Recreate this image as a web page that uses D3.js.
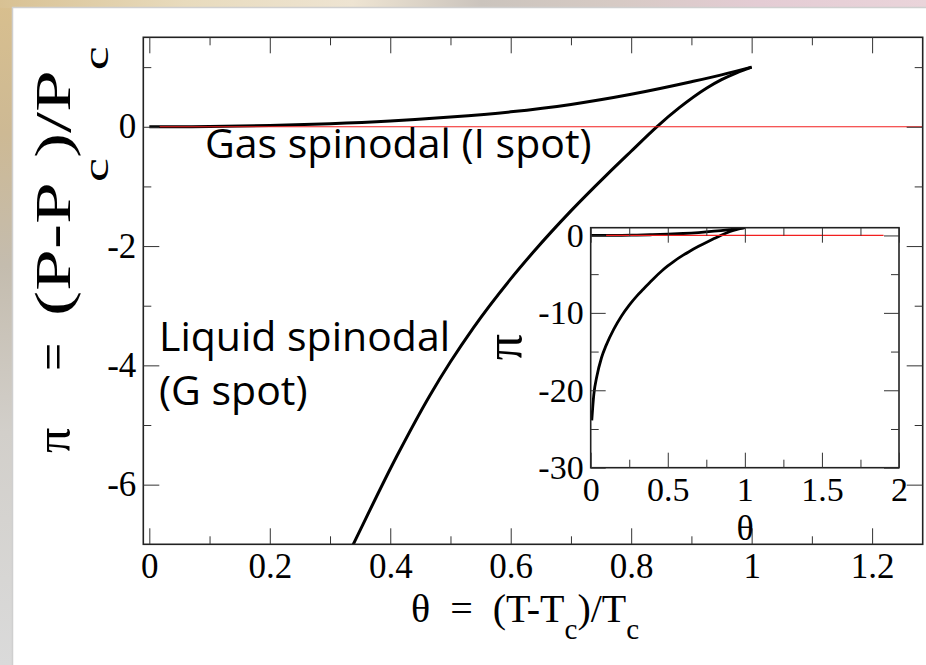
<!DOCTYPE html>
<html>
<head>
<meta charset="utf-8">
<script src="https://cdn.jsdelivr.net/npm/d3@7"></script>
<style>
  html, body { margin: 0; padding: 0; background: #fff; }
  svg { display: block; }
</style>
</head>
<body>
<svg id="chart" width="926" height="665"></svg>
<script>
// Spinodal curves in reduced units: θ = (T-Tc)/Tc, π = (P-Pc)/Pc
const gasTheta = [0, 0.1, 0.2, 0.3, 0.4, 0.5, 0.6, 0.7, 0.8, 0.9, 0.95, 1.0];
const gasPi    = [0, 0.004, 0.02, 0.05, 0.096, 0.162, 0.25, 0.375, 0.545, 0.755, 0.87, 1.0];

const liquidTheta = [0.007, 0.02, 0.04, 0.07, 0.1, 0.15, 0.2, 0.25, 0.3, 0.341, 0.411, 0.466, 0.5, 0.538, 0.6, 0.6376, 0.7, 0.759, 0.8, 0.8425, 0.88, 0.9256, 0.95, 0.975, 1.0];
const liquidPi    = [-23.9, -20.6, -18.2, -15.8, -14.2, -12.1, -10.4, -9.0, -7.8, -6.95, -5.52, -4.5, -3.94, -3.37, -2.55, -2.1, -1.41, -0.81, -0.41, 0, 0.32, 0.65, 0.79, 0.905, 1.0];

// π = 0 reference line (θ extent in each panel)
const zeroLineMain  = [0.017, 1.3];
const zeroLineInset = [0.1, 1.9];

// Tick values
const mainXTicks  = [0, 0.2, 0.4, 0.6, 0.8, 1, 1.2];
const mainXMinor  = [0.1, 0.3, 0.5, 0.7, 0.9, 1.1];
const mainYTicks  = [-6, -4, -2, 0];
const mainYMinor  = [-5, -3, -1, 1];
const insetXTicks = [0, 0.5, 1, 1.5, 2];
const insetXMinor = [0.25, 0.75, 1.25, 1.75];
const insetYTicks = [-30, -20, -10, 0];
const insetYMinor = [-25, -15, -5];

const W = 926, H = 665;
const SERIF = "'Liberation Serif', 'Times New Roman', serif";
const SANS = "'Open Sans', Lato, Carlito, Calibri, sans-serif";

const svg = d3.select("#chart");
const defs = svg.append("defs");

// ---- slide backdrop ----
function grad(id, vertical, stops) {
  const g = defs.append("linearGradient").attr("id", id)
    .attr("x1", 0).attr("y1", 0).attr("x2", vertical ? 0 : 1).attr("y2", vertical ? 1 : 0);
  stops.forEach(([o, c]) => g.append("stop").attr("offset", o).attr("stop-color", c));
}
grad("leftGrad", true, [[0, "#d8bf8e"], [0.2, "#cdb994"], [0.4, "#c4bcae"], [0.65, "#d2cfca"], [1, "#dadada"]]);
grad("topGrad", false, [[0, "#d8c193"], [0.2, "#e8dbbd"], [0.38, "#eee4d2"], [0.52, "#cbc4bd"], [0.66, "#d6cac4"], [0.82, "#e4ccd4"], [1, "#ead4da"]]);

svg.append("rect").attr("width", W).attr("height", H).attr("fill", "url(#leftGrad)");
svg.append("rect").attr("width", W).attr("height", 8).attr("fill", "url(#topGrad)");
svg.append("rect").attr("x", 12.5).attr("y", 7.5).attr("width", W).attr("height", H)
  .attr("fill", "#fff").attr("stroke", "#cfcfcf").attr("stroke-width", 1.5);

// ---- helpers ----
function ticksAllSides(g, xs, ys, o) {
  const [x0, x1] = xs.range(), [y0, y1] = ys.range();
  const fmt = d => String(d);
  const strip = sel => sel.select(".domain").remove();
  const tickStyle = sel => sel.selectAll(".tick line").attr("stroke", "#333").attr("stroke-width", 1);
  const textStyle = sel => sel.selectAll("text").style("font-family", SERIF).style("font-size", o.fs + "px").attr("fill", "#000");

  // bottom
  g.append("g").attr("transform", `translate(0,${y0})`)
    .call(d3.axisBottom(xs).tickValues(o.xt).tickFormat(fmt).tickSize(-o.major).tickPadding(o.xpad))
    .call(strip).call(tickStyle).call(textStyle);
  g.append("g").attr("transform", `translate(0,${y0})`)
    .call(d3.axisBottom(xs).tickValues(o.xm).tickFormat("").tickSize(-o.minor))
    .call(strip).call(tickStyle);
  // top
  g.append("g").attr("transform", `translate(0,${y1})`)
    .call(d3.axisTop(xs).tickValues(o.xt).tickFormat("").tickSize(-o.major))
    .call(strip).call(tickStyle);
  g.append("g").attr("transform", `translate(0,${y1})`)
    .call(d3.axisTop(xs).tickValues(o.xm).tickFormat("").tickSize(-o.minor))
    .call(strip).call(tickStyle);
  // left
  g.append("g").attr("transform", `translate(${x0},0)`)
    .call(d3.axisLeft(ys).tickValues(o.yt).tickFormat(fmt).tickSize(-o.major).tickPadding(o.ypad))
    .call(strip).call(tickStyle).call(textStyle);
  g.append("g").attr("transform", `translate(${x0},0)`)
    .call(d3.axisLeft(ys).tickValues(o.ym).tickFormat("").tickSize(-o.minor))
    .call(strip).call(tickStyle);
  // right
  g.append("g").attr("transform", `translate(${x1},0)`)
    .call(d3.axisRight(ys).tickValues(o.yt).tickFormat("").tickSize(-o.major))
    .call(strip).call(tickStyle);
  g.append("g").attr("transform", `translate(${x1},0)`)
    .call(d3.axisRight(ys).tickValues(o.ym).tickFormat("").tickSize(-o.minor))
    .call(strip).call(tickStyle);
}

function drawPanel(g, xs, ys, clipId, zeroExtent, lineW) {
  const [x0, x1] = xs.range(), [y0, y1] = ys.range();
  defs.append("clipPath").attr("id", clipId).append("rect")
    .attr("x", x0).attr("y", y1).attr("width", x1 - x0).attr("height", y0 - y1);
  const plot = g.append("g").attr("clip-path", `url(#${clipId})`);
  const line = d3.line().x(d => xs(d[0])).y(d => ys(d[1])).curve(d3.curveMonotoneX);

  plot.append("path").datum(d3.zip(gasTheta, gasPi)).attr("d", line)
    .attr("fill", "none").attr("stroke", "#000").attr("stroke-width", lineW).attr("stroke-linejoin", "round");
  plot.append("path").datum(d3.zip(liquidTheta, liquidPi)).attr("d", line)
    .attr("fill", "none").attr("stroke", "#000").attr("stroke-width", lineW).attr("stroke-linejoin", "round");
  plot.append("path").datum(zeroExtent.map(t => [t, 0])).attr("d", d3.line().x(d => xs(d[0])).y(d => ys(d[1])))
    .attr("fill", "none").attr("stroke", "#f21f1f").attr("stroke-width", 1.2);

  g.append("rect").attr("x", x0).attr("y", y1).attr("width", x1 - x0).attr("height", y0 - y1)
    .attr("fill", "none").attr("stroke", "#222").attr("stroke-width", 1.6);
}

// ---- main panel ----
const xMain = d3.scaleLinear().domain([-0.01, 1.284]).range([143.3, 922.7]);
const yMain = d3.scaleLinear().domain([-7, 1.5]).range([544.3, 37.3]);
const gMain = svg.append("g");
drawPanel(gMain, xMain, yMain, "clipMain", zeroLineMain, 3);
ticksAllSides(gMain, xMain, yMain, {
  xt: mainXTicks, xm: mainXMinor, yt: mainYTicks, ym: mainYMinor,
  major: 16, minor: 8, fs: 35, xpad: 9, ypad: 7
});

// x-axis title
const xTitle = svg.append("text").attr("x", 411).attr("y", 622)
  .attr("font-family", SERIF).attr("font-size", 40).style("white-space", "pre");
xTitle.append("tspan").text("θ  =  (T-T");
xTitle.append("tspan").attr("font-size", 29).attr("dy", 17).text("c");
xTitle.append("tspan").attr("dy", -17).text(")/T");
xTitle.append("tspan").attr("font-size", 29).attr("dy", 17).text("c");

// y-axis title, set in three pieces along the rotated baseline
svg.append("text").attr("transform", "translate(70,453) rotate(-90)")
  .attr("font-family", SERIF).attr("font-size", 50).text("π");
svg.append("text").attr("transform", "translate(70,371) rotate(-90)")
  .attr("font-family", SERIF).attr("font-size", 50).text("=");
const yFrac = svg.append("text").attr("font-family", SERIF).attr("font-size", 50);
yFrac.append("tspan").text("(P-P");
yFrac.append("tspan").attr("font-size", 36).attr("dy", 38).text("c");
yFrac.append("tspan").attr("dy", -38).text(")/P");
yFrac.append("tspan").attr("font-size", 36).attr("dy", 38).text("c");
{
  const k = 270 / yFrac.node().getComputedTextLength();
  yFrac.attr("transform", `translate(70,316) rotate(-90) scale(${k},1)`);
}

// annotations
const note = (x, y, t) => svg.append("text").attr("x", x).attr("y", y)
  .attr("font-family", SANS).attr("font-size", 41).attr("fill", "#000").text(t);
note(205, 158, "Gas spinodal (I spot)");
note(159, 351, "Liquid spinodal");
note(159, 405, "(G spot)");

// ---- inset panel ----
const xIn = d3.scaleLinear().domain([0, 2]).range([590.7, 899]);
const yIn = d3.scaleLinear().domain([-30, 1]).range([467.7, 227.7]);
const gIn = svg.append("g");
gIn.append("rect").attr("x", 590.7).attr("y", 227.7).attr("width", 899 - 590.7).attr("height", 467.7 - 227.7).attr("fill", "#fff");
drawPanel(gIn, xIn, yIn, "clipInset", zeroLineInset, 2.8);
ticksAllSides(gIn, xIn, yIn, {
  xt: insetXTicks, xm: insetXMinor, yt: insetYTicks, ym: insetYMinor,
  major: 15, minor: 8, fs: 34, xpad: 9, ypad: 7
});
svg.append("text").attr("x", 745).attr("y", 540).attr("text-anchor", "middle")
  .attr("font-family", SERIF).attr("font-size", 36).text("θ");
svg.append("text").attr("transform", "translate(521,347) rotate(-90)").attr("text-anchor", "middle")
  .attr("font-family", SERIF).attr("font-size", 52).text("π");
</script>
</body>
</html>
